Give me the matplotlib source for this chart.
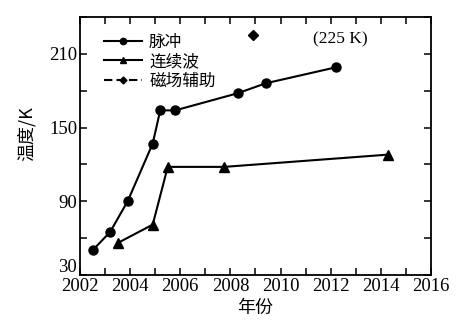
import matplotlib
matplotlib.use("Agg")
import matplotlib.pyplot as plt
from matplotlib.ticker import MultipleLocator, FixedLocator
from matplotlib.transforms import ScaledTranslation

plt.rcParams['font.family'] = ['Liberation Serif', 'Noto Sans CJK SC']

# Pulsed operation
pulse_year = [2002.5, 2003.2, 2003.9, 2004.9, 2005.2, 2005.8, 2008.3, 2009.4, 2012.2]
pulse_temp = [50, 65, 90, 137, 164, 164, 178, 186, 199]

# Continuous wave
cw_year = [2003.5, 2004.9, 2005.5, 2007.75, 2014.3]
cw_temp = [56, 71, 118, 118, 128]

# Magnetic-field assisted
mag_year = [2008.9]
mag_temp = [225]

series_labels = ['脉冲', '连续波', '磁场辅助']
x_ticks = [2002, 2004, 2006, 2008, 2010, 2012, 2014, 2016]
y_ticks = [30, 90, 150, 210]

fig = plt.figure(figsize=(4.68, 3.24), dpi=100)
ax = fig.add_axes([80 / 468, 1 - 275 / 324, 351 / 468, 258 / 324])

ax.plot(pulse_year, pulse_temp, '-o', color='black', lw=1.5, ms=6.5, label=series_labels[0])
ax.plot(cw_year, cw_temp, '-^', color='black', lw=1.5, ms=7, label=series_labels[1])
ax.plot(mag_year, mag_temp, linestyle=(0, (4, 2)), marker='D', color='black',
        lw=1.5, ms=5, label=series_labels[2])

ax.text(2012.4, 222, '(225 K)', fontsize=12.5, ha='center', va='center',
        family='Liberation Serif')

ax.set_xlim(2002, 2016)
ax.set_ylim(30, 240)
ax.set_xticks(x_ticks)
ax.xaxis.set_minor_locator(MultipleLocator(1))
ax.set_yticks(y_ticks)
ax.yaxis.set_minor_locator(FixedLocator([60, 120, 180, 240]))

ax.tick_params(which='both', direction='in', top=True, right=True, width=1.1,
               labelsize=13.5, pad=2, length=5)
for s in ax.spines.values():
    s.set_linewidth(1.3)

# lift the lowest y label clear of the x labels
lowest = ax.get_yticklabels()[0]
lowest.set_transform(lowest.get_transform() + ScaledTranslation(0, 6.5 / 72, fig.dpi_scale_trans))

ax.set_xlabel('年份', fontsize=13, family=['Noto Sans CJK SC'], labelpad=3)
ax.set_ylabel('温度/K', fontsize=13, family=['Noto Sans CJK SC', 'Liberation Serif'])
ax.yaxis.set_label_coords(-0.125, 0.55)

leg = ax.legend(loc='upper left', bbox_to_anchor=(0.04, 0.975), frameon=False,
                prop={'family': 'Noto Sans CJK SC', 'size': 12},
                handlelength=2.3, handletextpad=0.4, labelspacing=0.15,
                markerscale=0.7, borderaxespad=0.2)

fig.savefig('out.png', dpi=100)
